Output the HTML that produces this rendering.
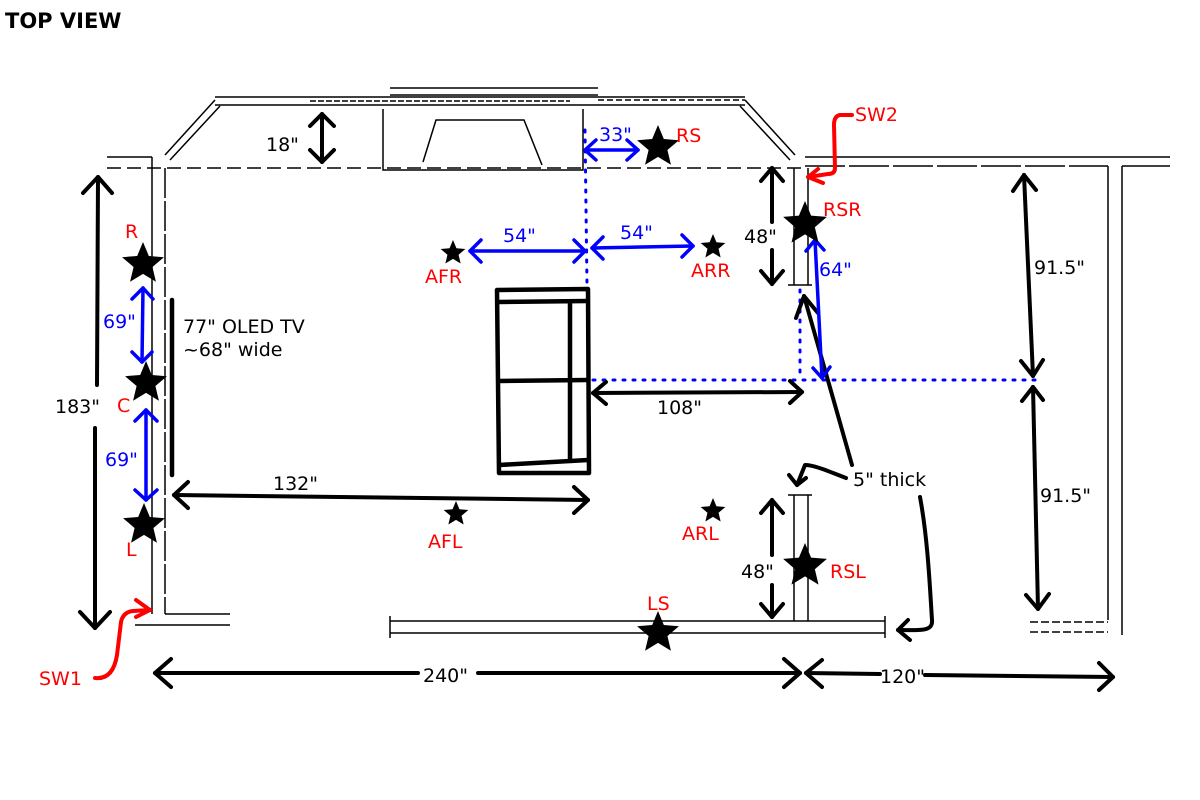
<!DOCTYPE html>
<html><head><meta charset="utf-8"><style>
html,body{margin:0;padding:0;background:#fff;}
svg{display:block;font-family:"DejaVu Sans","Liberation Sans",sans-serif;}
</style></head><body>
<svg width="1200" height="800" viewBox="0 0 1200 800" xmlns="http://www.w3.org/2000/svg">
<defs>
<polygon id="star" points="0,-1 0.265,-0.365 0.951,-0.309 0.428,0.139 0.588,0.809 0,0.45 -0.588,0.809 -0.428,0.139 -0.951,-0.309 -0.265,-0.365"/>
</defs>
<rect width="1200" height="800" fill="#fff"/>
<text x="5" y="28" font-size="21" font-weight="bold" font-family="DejaVu Sans,sans-serif">TOP VIEW</text>

<!-- walls -->
<g stroke="#000" fill="none" stroke-width="1.5">
<line x1="215" y1="97" x2="745" y2="97"/>
<line x1="215" y1="105" x2="745" y2="105"/>
<line x1="310" y1="101" x2="570" y2="101" stroke-dasharray="6 2"/>
<line x1="390" y1="88" x2="598" y2="88"/>
<line x1="390" y1="95" x2="598" y2="95"/>
<line x1="598" y1="100" x2="745" y2="100" stroke-dasharray="6 3"/>
<line x1="165" y1="155" x2="215" y2="100"/>
<line x1="170" y1="160" x2="220" y2="106"/>
<line x1="745" y1="100" x2="795" y2="155"/>
<line x1="740" y1="106" x2="790" y2="160"/>
<line x1="107" y1="157" x2="152" y2="157"/>
<line x1="107" y1="168" x2="805" y2="168" stroke-dasharray="14 6"/>
<line x1="152" y1="157" x2="152" y2="614"/>
<line x1="165" y1="168" x2="165" y2="614" stroke-dasharray="30 3"/>
<line x1="165" y1="614" x2="230" y2="614"/>
<line x1="135" y1="625" x2="230" y2="625"/>
<line x1="390" y1="621" x2="885" y2="621"/>
<line x1="390" y1="633" x2="885" y2="633"/>
<line x1="390" y1="616" x2="390" y2="638"/>
<line x1="885" y1="616" x2="885" y2="638"/>
<!-- fireplace -->
<polyline points="383,109 383,170 583,170 583,109"/>
<polyline points="423,162 436,120 524,120 542,165"/>
<!-- partitions -->
<line x1="794" y1="168" x2="794" y2="285"/>
<line x1="808" y1="168" x2="808" y2="285"/>
<line x1="788" y1="285" x2="812" y2="285"/>
<line x1="794" y1="495" x2="794" y2="621"/>
<line x1="808" y1="495" x2="808" y2="621"/>
<line x1="788" y1="495" x2="812" y2="495"/>
<!-- right wall -->
<line x1="805" y1="157" x2="1170" y2="157"/>
<line x1="805" y1="166" x2="1108" y2="166" stroke-dasharray="40 4"/>
<line x1="1122" y1="166" x2="1170" y2="166"/>
<line x1="1108" y1="166" x2="1108" y2="620"/>
<line x1="1122" y1="166" x2="1122" y2="635"/>
<line x1="1030" y1="622" x2="1108" y2="622" stroke-dasharray="8 3"/>
<line x1="1030" y1="632" x2="1108" y2="632" stroke-dasharray="8 3"/>
</g>

<!-- couch -->
<g stroke="#000" fill="none" stroke-width="4.5" stroke-linejoin="round">
<polygon points="497,290 588,289 589,473 499,473"/>
<line x1="498" y1="302" x2="588" y2="301"/>
<line x1="570" y1="302" x2="570" y2="462"/>
<line x1="498" y1="381" x2="588" y2="380"/>
<line x1="499" y1="465" x2="588" y2="460"/>
</g>

<!-- TV -->
<line x1="172" y1="300" x2="172" y2="475" stroke="#000" stroke-width="4.5" stroke-linecap="round"/>

<!-- blue dotted -->
<g stroke="#00f" stroke-width="3" stroke-dasharray="2 8" stroke-linecap="round" fill="none">
<line x1="585" y1="130" x2="587" y2="285"/>
<line x1="593" y1="380" x2="1040" y2="380"/>
<line x1="800" y1="290" x2="800" y2="380"/>
</g>

<!-- black arrows -->
<g stroke="#000" stroke-width="4" fill="none" stroke-linecap="round" stroke-linejoin="round">
<line x1="322" y1="114" x2="322" y2="162"/><polyline points="310,126 322,114 334,126"/><polyline points="310,150 322,162 334,150"/>
<line x1="98" y1="177" x2="97" y2="385"/><line x1="95" y1="428" x2="95" y2="628"/><polyline points="83,193 98,177 112,193"/><polyline points="80,612 95,628 110,612"/>
<line x1="174" y1="495" x2="588" y2="500"/><polyline points="188,482 174,495 188,508"/><polyline points="574,487 588,500 574,513"/>
<line x1="593" y1="393" x2="802" y2="392"/><polyline points="606,382 593,393 606,404"/><polyline points="790,381 802,392 790,403"/>
<line x1="772" y1="168" x2="772" y2="222"/><line x1="772" y1="250" x2="772" y2="284"/><polyline points="761,181 772,168 783,181"/><polyline points="761,271 772,284 783,271"/>
<line x1="772" y1="500" x2="772" y2="555"/><line x1="772" y1="585" x2="772" y2="617"/><polyline points="761,513 772,500 783,513"/><polyline points="761,604 772,617 783,604"/>
<line x1="1024" y1="175" x2="1033" y2="376"/><polyline points="1013,191 1024,175 1036,190"/><polyline points="1021,361 1033,376 1043,360"/>
<line x1="1033" y1="387" x2="1038" y2="609"/><polyline points="1022,401 1033,387 1043,400"/><polyline points="1026,595 1038,609 1049,594"/>
<line x1="155" y1="673" x2="418" y2="673"/><line x1="478" y1="673" x2="800" y2="673"/><polyline points="171,659 155,673 171,687"/><polyline points="784,659 800,673 784,687"/>
<line x1="806" y1="673" x2="880" y2="674"/><line x1="925" y1="675" x2="1113" y2="677"/><polyline points="822,660 806,673 822,687"/><polyline points="1099,663 1113,677 1099,690"/>
<polyline points="852,465 804,296"/><polyline points="796,318 804,296 818,313"/>
<path d="M846,478 C830,472 815,465 805,465 L797,485"/><polyline points="789,475 797,485 806,478"/>
<path d="M920,497 C928,540 930,590 932,620 C933,632 920,630 898,630"/><polyline points="908,620 898,630 910,640"/>
</g>

<!-- blue arrows -->
<g stroke="#00f" stroke-width="3.5" fill="none" stroke-linecap="round" stroke-linejoin="round">
<line x1="143" y1="288" x2="142" y2="362"/><polyline points="132,299 143,288 153,299"/><polyline points="132,352 142,362 152,352"/>
<line x1="146" y1="410" x2="146" y2="500"/><polyline points="135,421 146,410 157,421"/><polyline points="135,490 146,500 157,490"/>
<line x1="470" y1="251" x2="585" y2="251"/><polyline points="481,240 470,251 481,262"/><polyline points="574,240 585,251 574,262"/>
<line x1="592" y1="248" x2="693" y2="246"/><polyline points="603,237 592,248 603,259"/><polyline points="682,235 693,246 682,257"/>
<line x1="585" y1="150" x2="638" y2="150"/><polyline points="596,140 585,150 596,160"/><polyline points="627,140 638,150 627,160"/>
<line x1="815" y1="240" x2="822" y2="378"/><polyline points="806,251 815,240 824,250"/><polyline points="813,368 822,378 830,367"/>
</g>

<!-- red arrows -->
<g stroke="#f00" stroke-width="4" fill="none" stroke-linecap="round" stroke-linejoin="round">
<path d="M852,115 L840,115 Q834,116 834,125 L835,168 Q835,174 828,174 L808,177"/><polyline points="818,169 808,177 823,183"/>
<path d="M95,678 Q113,680 117,655 L121,622 Q123,612 133,611 L150,610"/><polyline points="136,600 150,610 136,617"/>
</g>

<!-- stars -->
<g fill="#000">
<use href="#star" transform="translate(143,264) scale(22)"/>
<use href="#star" transform="translate(146,383) scale(22)"/>
<use href="#star" transform="translate(144,525) scale(22)"/>
<use href="#star" transform="translate(658,147) scale(22)"/>
<use href="#star" transform="translate(805,224) scale(23)"/>
<use href="#star" transform="translate(805,566) scale(23)"/>
<use href="#star" transform="translate(658,633) scale(22)"/>
<use href="#star" transform="translate(453,253) scale(13)"/>
<use href="#star" transform="translate(713,247) scale(13)"/>
<use href="#star" transform="translate(456,514) scale(13)"/>
<use href="#star" transform="translate(713,511) scale(13)"/>
</g>

<!-- labels -->
<g font-size="19" fill="#000">
<text x="266" y="151">18"</text>
<text x="55" y="413">183"</text>
<text x="183" y="333">77" OLED TV</text>
<text x="183" y="356">~68" wide</text>
<text x="273" y="490">132"</text>
<text x="657" y="414">108"</text>
<text x="744" y="243">48"</text>
<text x="741" y="578">48"</text>
<text x="1034" y="274">91.5"</text>
<text x="1040" y="502">91.5"</text>
<text x="423" y="682">240"</text>
<text x="880" y="683">120"</text>
<text x="853" y="486">5" thick</text>
</g>
<g font-size="19" fill="#00f">
<text x="103" y="328">69"</text>
<text x="105" y="466">69"</text>
<text x="503" y="242">54"</text>
<text x="620" y="239">54"</text>
<text x="599" y="141">33"</text>
<text x="819" y="276">64"</text>
</g>
<g font-size="19" fill="#f00">
<text x="125" y="238">R</text>
<text x="117" y="412">C</text>
<text x="126" y="556">L</text>
<text x="676" y="142">RS</text>
<text x="855" y="121">SW2</text>
<text x="823" y="216">RSR</text>
<text x="830" y="578">RSL</text>
<text x="647" y="610">LS</text>
<text x="425" y="283">AFR</text>
<text x="691" y="277">ARR</text>
<text x="428" y="548">AFL</text>
<text x="682" y="540">ARL</text>
<text x="39" y="685">SW1</text>
</g>
</svg>
</body></html>
